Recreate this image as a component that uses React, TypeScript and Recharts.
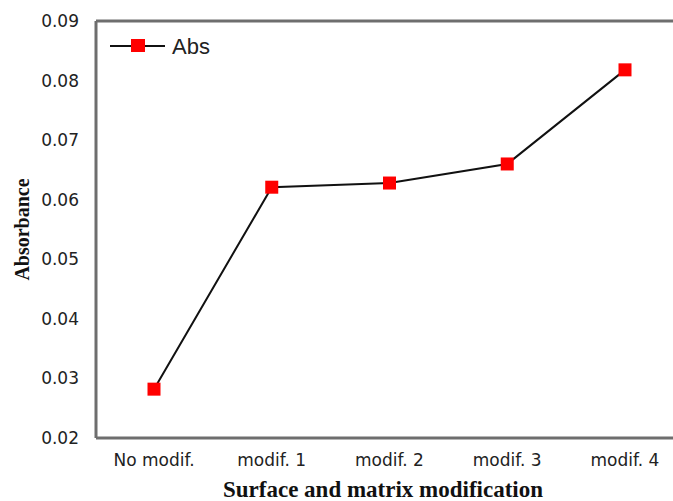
import React from 'react';
import {
  LineChart,
  Line,
  XAxis,
  YAxis,
  Legend,
  ReferenceLine,
  Label,
} from 'recharts';

const categories = ['No modif.', 'modif. 1', 'modif. 2', 'modif. 3', 'modif. 4'];
const absValues = [0.0282, 0.0621, 0.0628, 0.066, 0.0818];
const yTicks = [0.02, 0.03, 0.04, 0.05, 0.06, 0.07, 0.08, 0.09];

const data = categories.map((name, i) => ({ name, Abs: absValues[i] }));

const AXIS_GRAY = '#6e6e6e';
const TICK_STYLE = { fill: '#222', fontSize: 17, fontFamily: 'DejaVu Sans' };

// red square marker, same as the original spreadsheet chart
function SquareDot(props: any) {
  const { cx, cy } = props;
  if (cx == null || cy == null) return null;
  return <rect x={cx - 6.5} y={cy - 6.5} width={13} height={13} fill="#ff0000" />;
}

function LegendBox({ payload }: any) {
  const item = payload && payload[0];
  return (
    <svg width={120} height={26}>
      <line x1={2} y1={13} x2={57} y2={13} stroke="#111" strokeWidth={2} />
      <rect x={23} y={6} width={14} height={13} fill="#ff0000" />
      <text
        x={64}
        y={21}
        fontSize={22}
        fontFamily="Liberation Sans"
        fill="#222"
      >
        {item ? item.value : 'Abs'}
      </text>
    </svg>
  );
}

export default function App() {
  return (
    <div
      style={{
        position: 'absolute',
        left: 0,
        top: 0,
        width: 673,
        height: 501,
        overflow: 'hidden',
        background: '#fff',
      }}
    >
      <LineChart
        width={700}
        height={501}
        data={data}
        margin={{ top: 21, right: 14, bottom: 33, left: 0 }}
      >
        <XAxis
          dataKey="name"
          stroke={AXIS_GRAY}
          strokeWidth={3}
          tickLine={false}
          tickMargin={10}
          tick={TICK_STYLE}
          height={30}
          interval={0}
          padding={{ left: 58, right: 61 }}
        >
          <Label
            content={({ viewBox }: any) => (
              <text
                x={383}
                y={viewBox.y + viewBox.height + 29}
                textAnchor="middle"
                fontSize={23}
                fontWeight="bold"
                fontFamily="Liberation Serif"
                fill="#111"
              >
                Surface and matrix modification
              </text>
            )}
          />
        </XAxis>
        <YAxis
          domain={[0.02, 0.09]}
          ticks={yTicks}
          tickFormatter={(v: number) => v.toFixed(2)}
          stroke={AXIS_GRAY}
          strokeWidth={3}
          tickLine={false}
          tickMargin={11}
          tick={TICK_STYLE}
          width={96}
        >
          <Label
            content={({ viewBox }: any) => {
              const cy = viewBox.y + viewBox.height / 2;
              return (
                <text
                  x={29}
                  y={cy}
                  transform={`rotate(-90 29 ${cy})`}
                  textAnchor="middle"
                  fontSize={20}
                  fontWeight="bold"
                  fontFamily="Liberation Serif"
                  fill="#111"
                >
                  Absorbance
                </text>
              );
            }}
          />
        </YAxis>
        <ReferenceLine y={0.09} stroke={AXIS_GRAY} strokeWidth={3} />
        <Legend
          layout="vertical"
          align="center"
          verticalAlign="middle"
          content={LegendBox}
          wrapperStyle={{ left: 108, top: 33, width: 120 }}
        />
        <Line
          dataKey="Abs"
          stroke="#111"
          strokeWidth={2}
          dot={<SquareDot />}
          activeDot={false}
          isAnimationActive={false}
        />
      </LineChart>
    </div>
  );
}
